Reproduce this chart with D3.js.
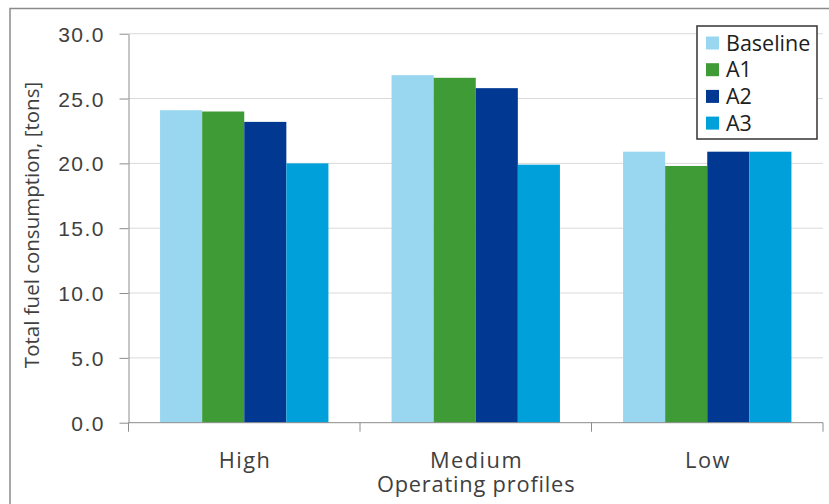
<!DOCTYPE html>
<html>
<head>
<meta charset="utf-8">
<script src="https://cdn.jsdelivr.net/npm/d3@7/dist/d3.min.js"></script>
<style>
  html, body { margin: 0; padding: 0; background: #fff; }
  svg { display: block; font-family: "Open Sans", sans-serif; }
</style>
</head>
<body>
<svg id="chart" width="829" height="504"></svg>
<script>
// Operating profiles on the x axis, one bar per scenario in each group
const categories = ["High", "Medium", "Low"];
const seriesNames = ["Baseline", "A1", "A2", "A3"];
const baseline = [24.1, 26.8, 20.9];
const a1 = [24.0, 26.6, 19.8];
const a2 = [23.2, 25.8, 20.9];
const a3 = [20.0, 19.9, 20.9];
const yTicks = [0, 5, 10, 15, 20, 25, 30];
const seriesColors = ["#99d6f0", "#3e9b36", "#003892", "#00a1db"];

const seriesValues = [baseline, a1, a2, a3];

const svg = d3.select("#chart");
const margin = { left: 128.5, right: 6, top: 33.7, bottom: 81.3 };
const W = 829, H = 504;
const plotW = W - margin.left - margin.right;
const plotH = H - margin.top - margin.bottom;
const textColor = "#404040";

// outer chart frame (runs past the right and bottom edges)
svg.append("rect")
  .attr("x", 10).attr("y", 8.5)
  .attr("width", 840).attr("height", 520)
  .attr("fill", "none")
  .attr("stroke", "#8a8a8a")
  .attr("stroke-width", 1.5);

const g = svg.append("g").attr("transform", `translate(${margin.left},${margin.top})`);

const x0 = d3.scaleBand().domain(categories).range([0, plotW]).paddingInner(0).paddingOuter(0);
// gap between groups equals 1.5 bar widths, half on each side
const groupPad = 0.75 / 5.5;
const x1 = d3.scaleBand().domain(seriesNames)
  .range([x0.bandwidth() * groupPad, x0.bandwidth() * (1 - groupPad)])
  .padding(0);
const y = d3.scaleLinear().domain([0, 30]).range([plotH, 0]);

// horizontal gridlines
g.append("g")
  .selectAll("line")
  .data(yTicks.filter(t => t > 0))
  .join("line")
  .attr("x1", 0).attr("x2", plotW)
  .attr("y1", d => y(d)).attr("y2", d => y(d))
  .attr("stroke", "#d9d9d9")
  .attr("stroke-width", 1);

// bars
const groups = g.append("g")
  .selectAll("g")
  .data(categories)
  .join("g")
  .attr("transform", d => `translate(${x0(d)},0)`);

groups.selectAll("rect")
  .data((c, i) => seriesNames.map((s, k) => ({ s, k, v: seriesValues[k][i] })))
  .join("rect")
  .attr("x", d => x1(d.s))
  .attr("width", x1.bandwidth())
  .attr("y", d => y(d.v))
  .attr("height", d => y(0) - y(d.v))
  .attr("fill", d => seriesColors[d.k]);

// y axis
const yAxis = g.append("g")
  .call(d3.axisLeft(y).tickValues(yTicks).tickFormat(d3.format(".1f")).tickSize(9).tickSizeOuter(0));
yAxis.select(".domain").attr("stroke", "#8c8c8c");
yAxis.selectAll(".tick line").attr("stroke", "#8c8c8c");
yAxis.selectAll(".tick text")
  .attr("fill", textColor)
  .attr("font-size", 21)
  .attr("letter-spacing", 1.5)
  .attr("x", -23.5)
  .attr("dy", "0.36em");

// x axis with category boundary ticks
const xAxisG = g.append("g").attr("transform", `translate(0,${plotH})`);
xAxisG.append("line")
  .attr("x1", 0).attr("x2", plotW)
  .attr("stroke", "#8c8c8c");
const bounds = [0, ...categories.map(c => x0(c) + x0.bandwidth())];
xAxisG.selectAll("line.tk")
  .data(bounds)
  .join("line")
  .attr("class", "tk")
  .attr("x1", d => d).attr("x2", d => d)
  .attr("y1", 0).attr("y2", 9)
  .attr("stroke", "#8c8c8c");
xAxisG.selectAll("text")
  .data(categories)
  .join("text")
  .attr("x", d => x0(d) + x0.bandwidth() / 2 + 0.8)
  .attr("y", 45.5)
  .attr("text-anchor", "middle")
  .attr("fill", textColor)
  .attr("font-size", 21.8)
  .attr("letter-spacing", 1.5)
  .text(d => d);

// axis titles
svg.append("text")
  .attr("x", margin.left + plotW / 2 + 0.4)
  .attr("y", 492)
  .attr("text-anchor", "middle")
  .attr("fill", textColor)
  .attr("font-size", 21.8)
  .attr("letter-spacing", 0.8)
  .text("Operating profiles");

svg.append("text")
  .attr("transform", "translate(38.5,225) rotate(-90)")
  .attr("text-anchor", "middle")
  .attr("fill", textColor)
  .attr("font-size", 20.5)
  .text("Total fuel consumption, [tons]");

// legend
const legend = svg.append("g").attr("transform", "translate(697,26)");
legend.append("rect")
  .attr("width", 120).attr("height", 113)
  .attr("fill", "#fff")
  .attr("stroke", "#333")
  .attr("stroke-width", 1.5);
const items = legend.selectAll("g.item")
  .data(seriesNames)
  .join("g")
  .attr("class", "item")
  .attr("transform", (d, i) => `translate(9,${17 + i * 26.7})`);
items.append("rect")
  .attr("y", -6.5)
  .attr("width", 13).attr("height", 13)
  .attr("fill", (d, i) => seriesColors[i]);
items.append("text")
  .attr("x", 20)
  .attr("dy", "0.36em")
  .attr("fill", "#202020")
  .attr("font-size", 21.5)
  .text(d => d);
</script>
</body>
</html>
